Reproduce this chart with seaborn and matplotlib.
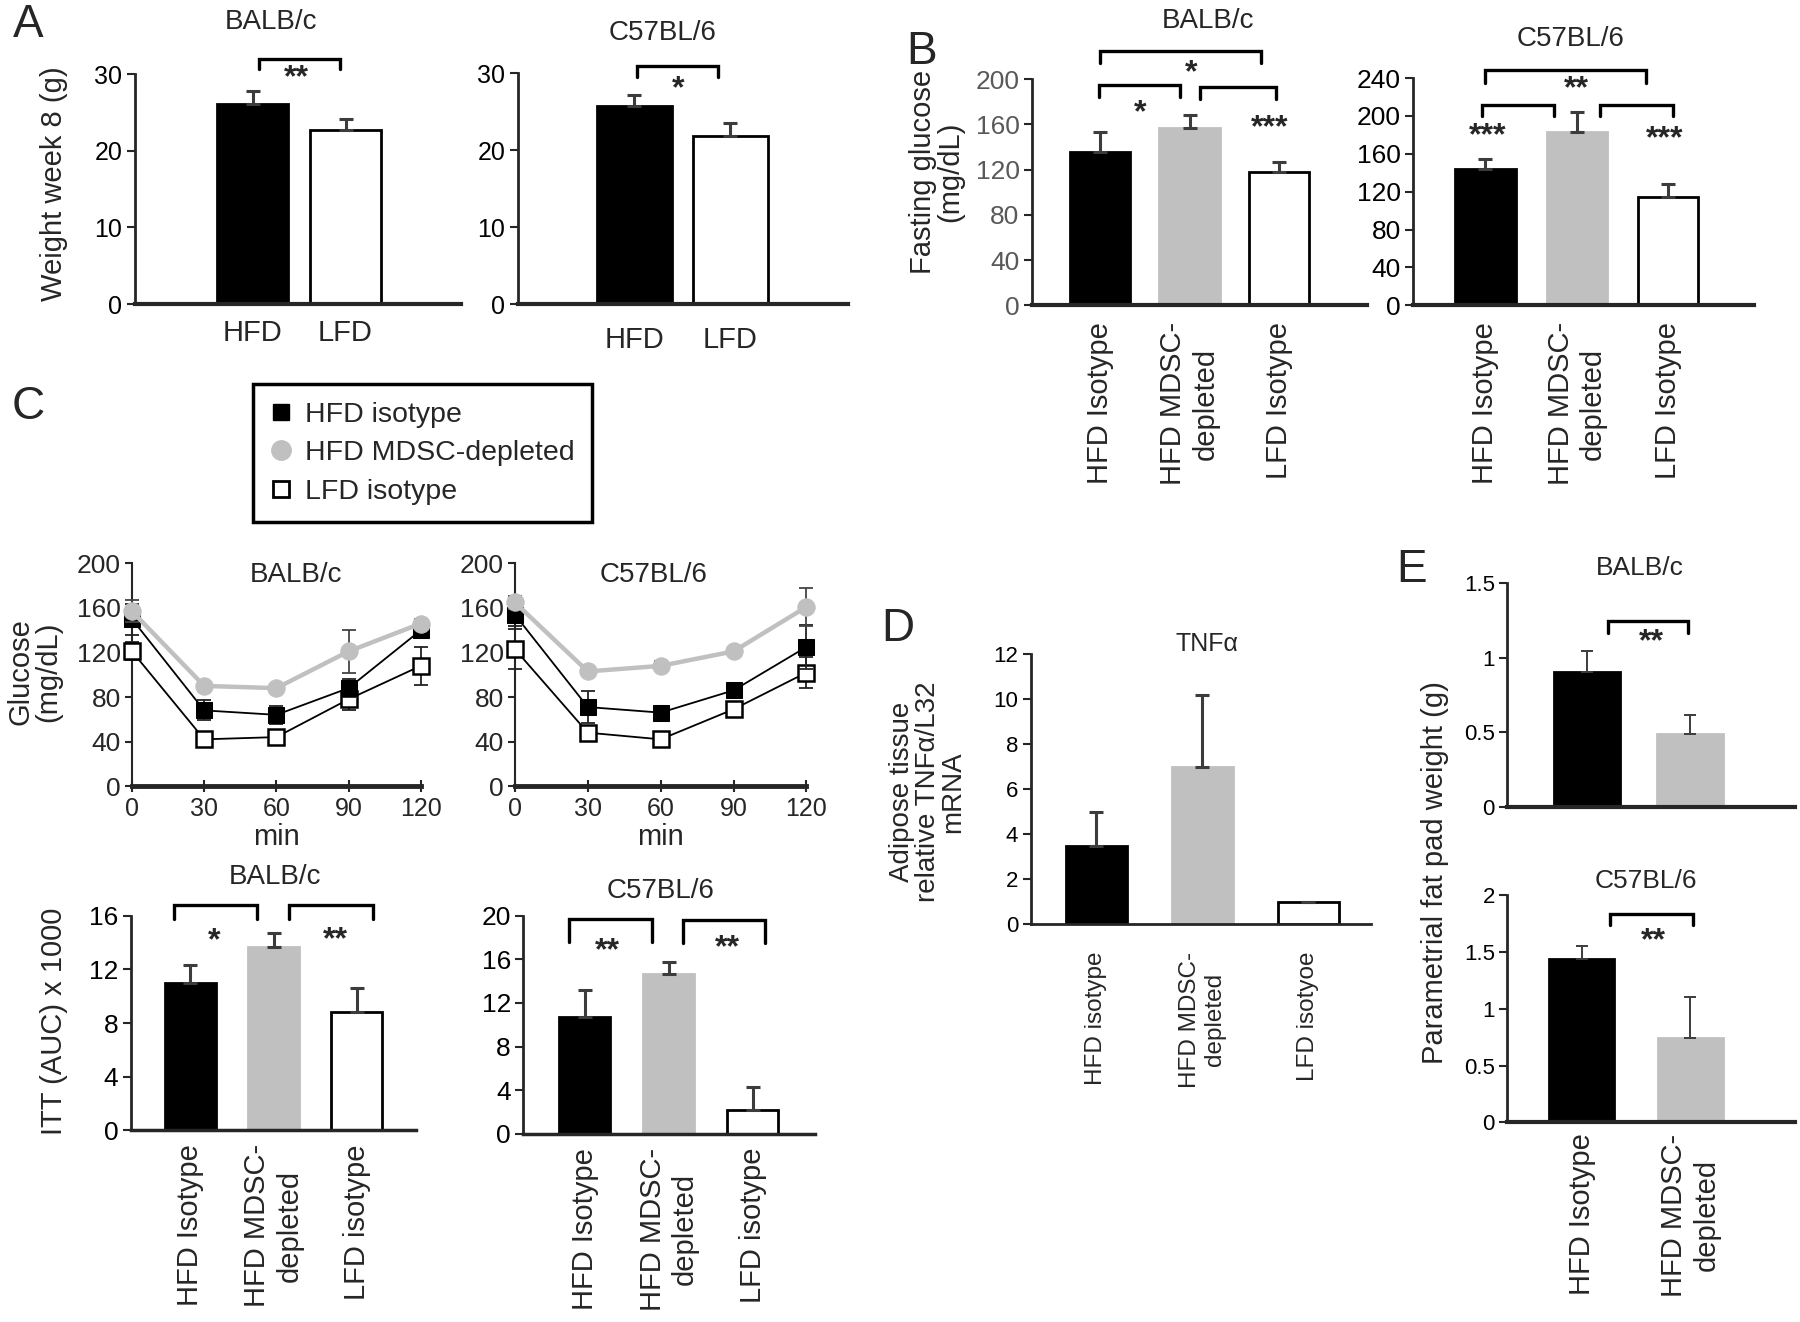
import numpy as np
import matplotlib
matplotlib.use('Agg')
import matplotlib.pyplot as plt
from matplotlib.lines import Line2D
import pandas as pd
import seaborn as sns

# ---------------- data ----------------
diet = ['HFD', 'LFD']
weight_balb = [26.1, 22.7]
weight_balb_err = [1.7, 1.5]
weight_b6 = [25.8, 21.9]
weight_b6_err = [1.4, 1.6]

groups_b = ['HFD Isotype', 'HFD MDSC-\ndepleted', 'LFD Isotype']
glucose_balb = [136, 157, 118]
glucose_balb_err = [17, 11, 9]
glucose_b6 = [144, 183, 114]
glucose_b6_err = [10, 21, 14]

itt_min = [0, 30, 60, 90, 120]
itt_balb_hfd = [150, 68, 64, 88, 140]
itt_balb_hfd_err = [14, 9, 8, 8, 6]
itt_balb_mdsc = [157, 90, 88, 121, 146]
itt_balb_mdsc_err = [10, 3, 3, 19, 4]
itt_balb_lfd = [121, 42, 44, 78, 108]
itt_balb_lfd_err = [8, 3, 5, 10, 17]
itt_b6_hfd = [154, 71, 66, 86, 125]
itt_b6_hfd_err = [10, 14, 5, 7, 20]
itt_b6_mdsc = [165, 103, 108, 121, 161]
itt_b6_mdsc_err = [6, 3, 4, 3, 17]
itt_b6_lfd = [123, 48, 42, 69, 102]
itt_b6_lfd_err = [18, 4, 5, 3, 14]

groups_auc = ['HFD Isotype', 'HFD MDSC-\ndepleted', 'LFD isotype']
auc_balb = [11.0, 13.7, 8.8]
auc_balb_err = [1.3, 1.0, 1.8]
auc_b6 = [10.7, 14.7, 2.2]
auc_b6_err = [2.5, 1.1, 2.1]

groups_tnf = ['HFD isotype', 'HFD MDSC-\ndepleted', 'LFD isotyoe']
tnf = [3.46, 6.98, 0.99]
tnf_err = [1.52, 3.19, 0.0]

groups_fat = ['HFD Isotype', 'HFD MDSC-\ndepleted']
fat_balb = [0.906, 0.487]
fat_balb_err = [0.139, 0.129]
fat_b6 = [1.435, 0.739]
fat_b6_err = [0.117, 0.361]

BLACK, GRAY, WHITE = '#000000', '#c0c0c0', '#ffffff'

sns.set_style('ticks')
plt.rcParams['font.family'] = ['Liberation Sans', 'DejaVu Sans']
plt.rcParams['axes.linewidth'] = 2

fig = plt.figure(figsize=(18, 13.22), dpi=100)
W, H = 1568, 1152  # layout measured on the reference at this size


def add_ax(l, r, t, b):
    return fig.add_axes([l / W, 1 - b / H, (r - l) / W, (b - t) / H])


def fig_text(x, y, s, **kw):
    fig.text(x / W, 1 - y / H, s, **kw)


def bracket(ax, x0, x1, top, end):
    ax.plot([x0, x0, x1, x1], [end, top, top, end], color='black', lw=2.4,
            clip_on=False, solid_joinstyle='miter')


def stars(ax, x, y, s):
    ax.text(x, y, s, ha='center', va='center', fontsize=23, fontweight='bold', clip_on=False)


def bar_panel(box, cats, vals, errs, colors, width, xlim, ylim, yticks, ylabels=None,
              rot=False, label_fs=20, tick_fs=18, pad=10, tick_color='black', xlw=3,
              elw=2.2, ecap=5):
    ax = add_ax(*box)
    df = pd.DataFrame({'group': cats, 'value': vals})
    sns.barplot(data=df, x='group', y='value', hue='group', palette=colors, width=width,
                saturation=1, legend=False, ax=ax)
    for patch, c in zip(ax.patches, colors):
        patch.set_edgecolor(GRAY if c == GRAY else 'black')
        patch.set_linewidth(2)
    ax.errorbar(np.arange(len(cats)), vals, yerr=[np.zeros(len(errs)), errs], fmt='none',
                ecolor='#3c3c3c', elinewidth=elw, capsize=ecap, capthick=elw)
    ax.set_xlim(*xlim)
    ax.set_ylim(*ylim)
    ax.set_yticks(yticks)
    if ylabels is not None:
        ax.set_yticklabels(ylabels)
    sns.despine(ax=ax)
    ax.spines['bottom'].set_linewidth(xlw)
    ax.tick_params(axis='x', length=0, pad=pad, labelsize=label_fs)
    ax.tick_params(axis='y', length=6, width=1.5, labelsize=tick_fs, labelcolor=tick_color, pad=3)
    ax.set_xlabel('')
    ax.set_ylabel('')
    if rot:
        for lab in ax.get_xticklabels():
            lab.set_rotation(90)
            lab.set_va('top')
            lab.set_ha('center')
    return ax


def itt_panel(box, hfd, hfd_err, mdsc, mdsc_err, lfd, lfd_err, title, title_x):
    ax = add_ax(*box)
    ax.errorbar(itt_min, lfd, yerr=lfd_err, fmt='none', ecolor='#222222', elinewidth=1.3,
                capsize=5, capthick=1.3, zorder=2, clip_on=False)
    sns.lineplot(x=itt_min, y=lfd, ax=ax, color='black', lw=1.3, marker='s', markersize=11,
                 markerfacecolor='white', markeredgecolor='black', markeredgewidth=1.8,
                 clip_on=False, zorder=3)
    ax.errorbar(itt_min, hfd, yerr=hfd_err, fmt='none', ecolor='#222222', elinewidth=1.3,
                capsize=5, capthick=1.3, zorder=4, clip_on=False)
    sns.lineplot(x=itt_min, y=hfd, ax=ax, color='black', lw=1.3, marker='s', markersize=11,
                 markerfacecolor='black', markeredgecolor='black', clip_on=False, zorder=5)
    ax.errorbar(itt_min, mdsc, yerr=mdsc_err, fmt='none', ecolor='#444444', elinewidth=1.3,
                capsize=5, capthick=1.3, zorder=6, clip_on=False)
    sns.lineplot(x=itt_min, y=mdsc, ax=ax, color=GRAY, lw=3.2, marker='o', markersize=12.5,
                 markerfacecolor=GRAY, markeredgecolor=GRAY, clip_on=False, zorder=7)
    ax.set_xlim(0, 120)
    ax.set_ylim(0, 200)
    ax.set_xticks(itt_min)
    ax.set_yticks([0, 40, 80, 120, 160, 200])
    sns.despine(ax=ax)
    ax.spines['bottom'].set_linewidth(3.5)
    ax.spines['left'].set_linewidth(1.5)
    ax.tick_params(axis='x', direction='inout', length=8, width=1.5, labelsize=18, pad=4)
    ax.tick_params(axis='y', length=5, width=1.5, labelsize=19, pad=3)
    ax.set_xlabel('min', fontsize=21, labelpad=1)
    ax.set_ylabel('')
    ax.text(title_x, 190, title, ha='center', va='center', fontsize=20)
    return ax


# ---------------- A ----------------
ax = bar_panel((117.5, 402, 64.5, 265), diet, weight_balb, weight_balb_err, [BLACK, WHITE],
               0.765, (-1.265, 2.247), (0, 30), [0, 10, 20, 30], pad=11, label_fs=21)
bracket(ax, 0.07, 0.94, 32.0, 30.7)
stars(ax, 0.47, 29.4, '**')
ax.text(0.2, 36.8, 'BALB/c', ha='center', va='center', fontsize=20)

ax = bar_panel((451, 739, 64, 265), diet, weight_b6, weight_b6_err, [BLACK, WHITE],
               0.78, (-1.216, 2.233), (0, 30), [0, 10, 20, 30], pad=16, label_fs=21)
bracket(ax, 0.03, 0.87, 31.0, 29.55)
stars(ax, 0.46, 28.0, '*')
ax.text(0.3, 35.2, 'C57BL/6', ha='center', va='center', fontsize=20)

fig_text(47, 160, 'Weight week 8 (g)', rotation=90, ha='center', va='center', fontsize=21)

# ---------------- B ----------------
ax = bar_panel((899, 1191, 69, 266), groups_b, glucose_balb, glucose_balb_err,
               [BLACK, GRAY, WHITE], 0.67, (-0.754, 2.978), (0, 200),
               [0, 40, 80, 120, 160, 200], rot=True, label_fs=21, tick_fs=19, pad=12,
               tick_color='#595959')
bracket(ax, 0, 1.8, 224.9, 214)
stars(ax, 1.02, 205, '*')
bracket(ax, -0.01, 0.89, 195.2, 184)
stars(ax, 0.45, 170, '*')
bracket(ax, 1.12, 1.96, 192.9, 182.7)
stars(ax, 1.89, 157, '***')
ax.text(1.2, 251.8, 'BALB/c', ha='center', va='center', fontsize=20)

ax = bar_panel((1231, 1528, 68, 266), groups_b, glucose_b6, glucose_b6_err,
               [BLACK, GRAY, WHITE], 0.66, (-0.79, 2.94), (0, 240),
               [0, 40, 80, 120, 160, 200, 240], rot=True, label_fs=21, tick_fs=19, pad=12)
bracket(ax, 0, 1.76, 248.5, 235)
stars(ax, 1.0, 228, '**')
bracket(ax, -0.04, 0.755, 211, 200)
bracket(ax, 1.25, 2.05, 211, 200)
stars(ax, 0.025, 178, '***')
stars(ax, 1.96, 175, '***')
ax.text(0.93, 281, 'C57BL/6', ha='center', va='center', fontsize=20)

fig_text(816, 150, 'Fasting glucose\n(mg/dL)', rotation=90, ha='center', va='center',
         fontsize=21, linespacing=1.0)

# ---------------- C ----------------
itt_panel((115, 366.5, 491, 685), itt_balb_hfd, itt_balb_hfd_err, itt_balb_mdsc,
          itt_balb_mdsc_err, itt_balb_lfd, itt_balb_lfd_err, 'BALB/c', 68)
itt_panel((448.5, 702.5, 491, 685), itt_b6_hfd, itt_b6_hfd_err, itt_b6_mdsc, itt_b6_mdsc_err,
          itt_b6_lfd, itt_b6_lfd_err, 'C57BL/6', 57)
fig_text(30, 585, 'Glucose\n(mg/dL)', rotation=90, ha='center', va='center', fontsize=21,
         linespacing=1.0)

handles = [
    Line2D([], [], ls='none', marker='s', markersize=12, color='black'),
    Line2D([], [], ls='none', marker='o', markersize=14, color=GRAY),
    Line2D([], [], ls='none', marker='s', markersize=11, markerfacecolor='white',
           markeredgecolor='black', markeredgewidth=2),
]
leg = fig.legend(handles, ['HFD isotype', 'HFD MDSC-depleted', 'LFD isotype'],
                 loc='upper left', bbox_to_anchor=(220 / W, 1 - 335 / H), borderaxespad=0,
                 fontsize=20.5, frameon=True, fancybox=False, framealpha=1, edgecolor='black',
                 handlelength=0.8, handletextpad=0.45, borderpad=0.6, labelspacing=0.45)
leg.get_frame().set_linewidth(2.5)

ax = bar_panel((114, 362, 798, 985), groups_auc, auc_balb, auc_balb_err, [BLACK, GRAY, WHITE],
               0.61, (-0.714, 2.707), (0, 16), [0, 4, 8, 12, 16], rot=True, label_fs=21,
               tick_fs=19, pad=10, xlw=2.5)
bracket(ax, -0.19, 0.80, 16.77, 15.74)
stars(ax, 0.29, 14.1, '*')
bracket(ax, 1.19, 2.19, 16.77, 15.74)
stars(ax, 1.74, 14.2, '**')
ax.text(1.02, 18.9, 'BALB/c', ha='center', va='center', fontsize=20)
fig_text(47, 890, 'ITT (AUC) x 1000', rotation=90, ha='center', va='center', fontsize=21)

ax = bar_panel((456, 710, 798, 988), groups_auc, auc_b6, auc_b6_err, [BLACK, GRAY, WHITE],
               0.61, (-0.727, 2.74), (0, 20), [0, 4, 8, 12, 16, 20], rot=True, label_fs=21,
               tick_fs=19, pad=10, xlw=2.5)
bracket(ax, -0.18, 0.8, 19.7, 17.6)
stars(ax, 0.27, 16.7, '**')
bracket(ax, 1.17, 2.14, 19.6, 17.5)
stars(ax, 1.70, 17.0, '**')
ax.text(0.9, 22.3, 'C57BL/6', ha='center', va='center', fontsize=20)

# ---------------- D ----------------
ax = bar_panel((898, 1194, 570, 805), groups_tnf, tnf, tnf_err, [BLACK, GRAY, WHITE],
               0.575, (-0.618, 2.59), (0, 12), [0, 2, 4, 6, 8, 10, 12], rot=True,
               label_fs=17.5, tick_fs=16, pad=20, xlw=2, elw=2.2, ecap=5)
ax.text(1.04, 12.46, 'TNF\u03b1', ha='center', va='center', fontsize=18)
fig_text(808, 690, 'Adipose tissue\nrelative TNF\u03b1/L32\nmRNA', rotation=90, ha='center',
         va='center', fontsize=20, linespacing=1.0)

# ---------------- E ----------------
ax = bar_panel((1313, 1564, 508, 703), groups_fat, fat_balb, fat_balb_err, [BLACK, GRAY],
               0.64, (-0.778, 2.02), (0, 1.5), [0, 0.5, 1, 1.5], ['0', '0.5', '1', '1.5'],
               tick_fs=16, xlw=3, elw=1.4, ecap=4)
ax.set_xticklabels([])
bracket(ax, 0.20, 0.98, 1.246, 1.162)
stars(ax, 0.62, 1.10, '**')
ax.text(0.51, 1.6, 'BALB/c', ha='center', va='center', fontsize=19)

ax = bar_panel((1313, 1564, 780, 978), groups_fat, fat_b6, fat_b6_err, [BLACK, GRAY],
               0.6, (-0.688, 1.968), (0, 2), [0, 0.5, 1, 1.5, 2], ['0', '0.5', '1', '1.5', '2'],
               rot=True, label_fs=21, tick_fs=16, pad=8, xlw=3, elw=1.4, ecap=4)
bracket(ax, 0.26, 1.02, 1.838, 1.737)
stars(ax, 0.66, 1.59, '**')
ax.text(0.59, 2.12, 'C57BL/6', ha='center', va='center', fontsize=19)
fig_text(1250, 760, 'Parametrial fat pad weight (g)', rotation=90, ha='center', va='center',
         fontsize=21)

# ---------------- panel letters ----------------
for letter, x, y in [('A', 25, 22), ('B', 803, 45), ('C', 25, 355), ('D', 782, 548),
                     ('E', 1230, 497)]:
    fig_text(x, y, letter, ha='center', va='center', fontsize=33)

fig.savefig('out.png', dpi=100)
